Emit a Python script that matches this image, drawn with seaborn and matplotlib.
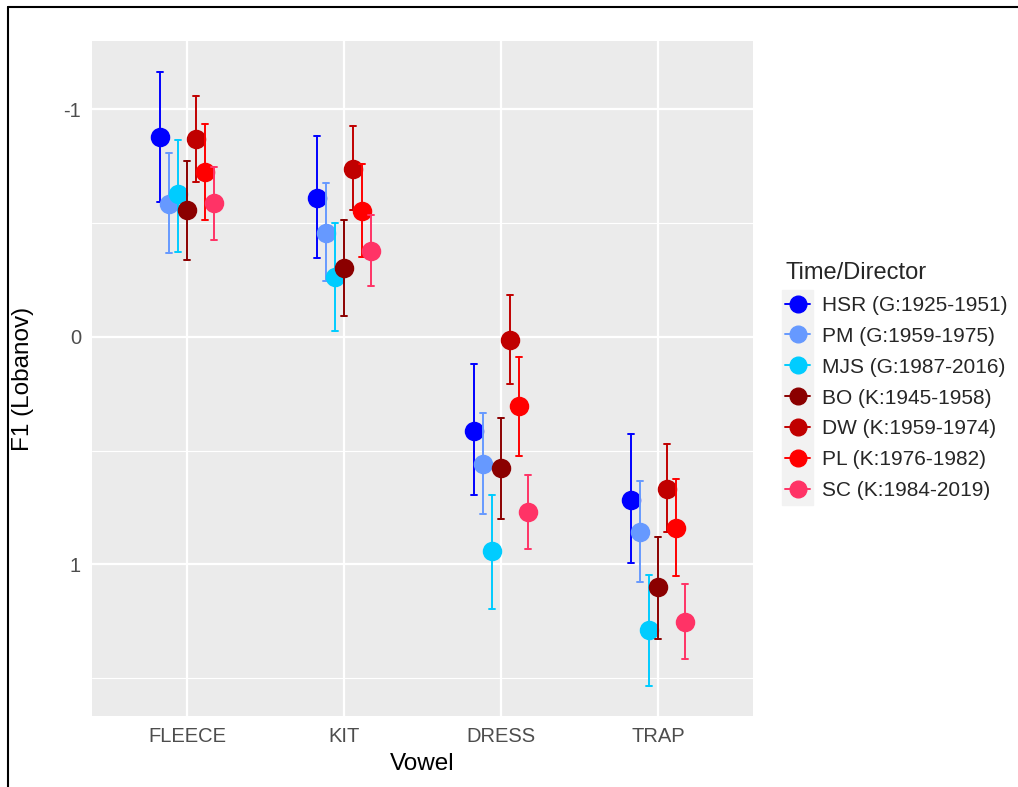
import matplotlib
matplotlib.use('Agg')
import matplotlib.pyplot as plt
import matplotlib.lines as mlines
import matplotlib.patches as mpatches
import seaborn as sns
import pandas as pd

# Data, F1 in Lobanov units
vowels = ["FLEECE", "KIT", "DRESS", "TRAP"]
directors = ["HSR (G:1925-1951)", "PM (G:1959-1975)", "MJS (G:1987-2016)",
             "BO (K:1945-1958)", "DW (K:1959-1974)", "PL (K:1976-1982)",
             "SC (K:1984-2019)"]
colors = ["#0000FF", "#6699FF", "#00CCFF", "#8B0000", "#C00000", "#FF0000", "#FF3366"]

# one row per vowel, one column per director
f1_mean = [[-0.878, -0.585, -0.627, -0.558, -0.872, -0.727, -0.588],
           [-0.611, -0.456, -0.262, -0.305, -0.738, -0.555, -0.378],
           [0.413, 0.558, 0.941, 0.574, 0.013, 0.303, 0.768],
           [0.715, 0.857, 1.288, 1.097, 0.667, 0.838, 1.253]]
f1_low = [[-1.165, -0.810, -0.866, -0.775, -1.061, -0.938, -0.749],
          [-0.884, -0.676, -0.500, -0.514, -0.927, -0.760, -0.536],
          [0.120, 0.334, 0.695, 0.355, -0.183, 0.086, 0.605],
          [0.428, 0.633, 1.046, 0.881, 0.472, 0.623, 1.087]]
f1_high = [[-0.595, -0.368, -0.375, -0.338, -0.680, -0.513, -0.426],
           [-0.346, -0.248, -0.028, -0.094, -0.558, -0.353, -0.224],
           [0.693, 0.777, 1.197, 0.800, 0.205, 0.523, 0.932],
           [0.993, 1.077, 1.536, 1.327, 0.858, 1.051, 1.417]]

# long table: low / mean / high per group, so median = mean and 100% interval = bar
rows = []
for i, v in enumerate(vowels):
    for j, d in enumerate(directors):
        for val in (f1_low[i][j], f1_mean[i][j], f1_high[i][j]):
            rows.append({"Vowel": v, "Director": d, "F1": val})
df = pd.DataFrame(rows)

sns.set_theme(style="darkgrid", rc={"axes.facecolor": "#EBEBEB", "grid.color": "white",
                                    "axes.edgecolor": "#EBEBEB"})
plt.rcParams['font.family'] = ['Liberation Sans', 'DejaVu Sans']

fig = plt.figure(figsize=(10.18, 7.87), dpi=100)
ax = fig.add_axes([92/1018, 1-716/787, 661/1018, 675/787])

sns.pointplot(data=df, x="Vowel", y="F1", hue="Director", order=vowels,
              hue_order=directors, palette=colors, estimator="median",
              errorbar=("pi", 100), dodge=0.343, linestyle="none", markers="o",
              markersize=12, capsize=0.04, err_kws={"linewidth": 1.4},
              legend=False, ax=ax)

ax.set_xlim(-0.605, 3.605)
ax.set_ylim(1.666, -1.301)
ax.set_yticks([-1, 0, 1])
ax.set_yticklabels(["-1", "0", "1"])
ax.set_yticks([-0.5, 0.5, 1.5], minor=True)
ax.grid(True, which="major", color="white", linewidth=1.6)
ax.grid(True, which="minor", axis="y", color="white", linewidth=0.8)
ax.tick_params(which="major", length=5, width=1, color="#333333",
               labelcolor="#4D4D4D", labelsize=14.5, pad=3)
ax.tick_params(which="minor", length=0)
for s in ax.spines.values():
    s.set_visible(False)

ax.set_xlabel("Vowel", fontsize=17.5, color="black")
ax.set_ylabel("F1 (Lobanov)", fontsize=17.5, color="black")
ax.xaxis.set_label_coords(0.5, -0.0545)
ax.yaxis.set_label_coords(-0.0874, 0.5)

# legend
fig.add_artist(mpatches.Rectangle((782/1018, 1-505/787), 31/1018, 215/787,
                                  transform=fig.transFigure, color="#F2F2F2", zorder=0))
handles = [mlines.Line2D([], [], color=c, marker="o", markersize=12, linewidth=1.4)
           for c in colors]
leg = fig.legend(handles, directors, title="Time/Director", loc="upper left",
                 bbox_to_anchor=(785/1018, 1-262/787), frameon=False, fontsize=15,
                 title_fontsize=17, handlelength=1.2, handletextpad=0.6,
                 labelspacing=0.57, borderpad=0, borderaxespad=0)
leg._legend_box.align = "left"

# frame lines of the original screenshot
fig.add_artist(mlines.Line2D([8/1018, 8/1018], [0, 1-7/787], transform=fig.transFigure,
                             color="black", linewidth=1.5))
fig.add_artist(mlines.Line2D([8/1018, 1], [1-7/787, 1-7/787], transform=fig.transFigure,
                             color="black", linewidth=1.5))

fig.savefig("out.png", dpi=100, facecolor="white")
